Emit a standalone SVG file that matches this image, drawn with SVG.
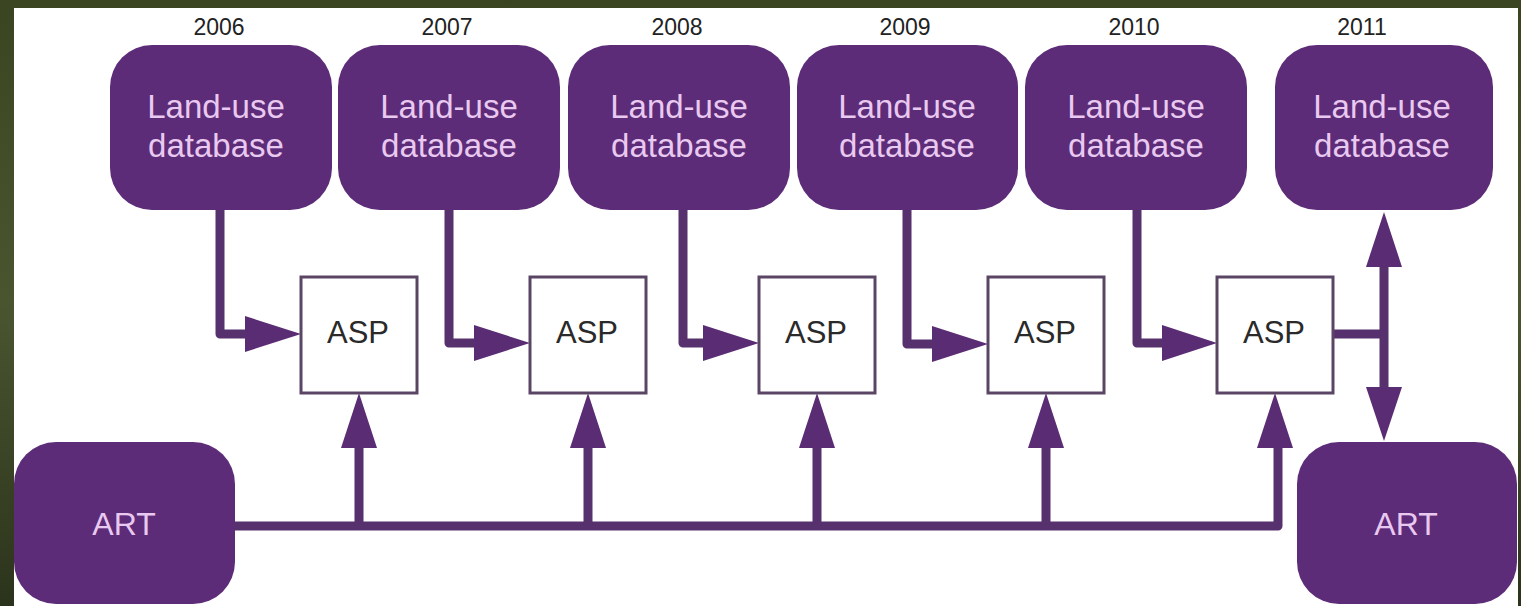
<svg xmlns="http://www.w3.org/2000/svg" width="1521" height="606" viewBox="0 0 1521 606">
  <defs>
    <linearGradient id="bg" x1="0" y1="0" x2="0" y2="1">
      <stop offset="0" stop-color="#3b4420"/>
      <stop offset="0.5" stop-color="#4a5530"/>
      <stop offset="1" stop-color="#2c331c"/>
    </linearGradient>
    <style>
      .db { fill: #5d2c78; }
      .dbt { font-family: "Liberation Sans", Arial, sans-serif; font-size: 33px; fill: #e9c9f0; text-anchor: middle; }
      .art { font-family: "Liberation Sans", Arial, sans-serif; font-size: 32px; fill: #e9c9f0; text-anchor: middle; }
      .yr { font-family: "Liberation Sans", Arial, sans-serif; font-size: 23px; fill: #222222; text-anchor: middle; }
      .asp { fill: #ffffff; stroke: #5a4664; stroke-width: 3; }
      .aspt { font-family: "Liberation Sans", Arial, sans-serif; font-size: 31px; fill: #2a2a2a; text-anchor: middle; }
      .ln { fill: none; stroke: #57306e; stroke-width: 9; stroke-linejoin: round; }
      .ah { fill: #5a2c74; }
    </style>
  </defs>
  <rect x="0" y="0" width="1521" height="606" fill="url(#bg)"/>
  <rect x="14" y="8" width="1504" height="598" fill="#ffffff"/>

  <g id="connectors">
    <path class="ln" d="M220,210 V334 H250"/>
    <polygon class="ah" points="245,316 301,334 245,352"/>
    <path class="ln" d="M449,210 V343 H478"/>
    <polygon class="ah" points="474,325 530,343 474,361"/>
    <path class="ln" d="M683,210 V343 H707"/>
    <polygon class="ah" points="703,325 759,343 703,361"/>
    <path class="ln" d="M907,210 V344 H936"/>
    <polygon class="ah" points="932,326 988,344 932,362"/>
    <path class="ln" d="M1137,210 V343 H1166"/>
    <polygon class="ah" points="1162,325 1217,343 1162,361"/>
    <path class="ln" d="M235,526 H1278 V440"/>
    <path class="ln" d="M359,526 V440"/>
    <path class="ln" d="M588,526 V440"/>
    <path class="ln" d="M817,526 V440"/>
    <path class="ln" d="M1046,526 V440"/>
    <polygon class="ah" points="341,448 359,393 377,448"/>
    <polygon class="ah" points="570,448 588,393 606,448"/>
    <polygon class="ah" points="799,448 817,393 835,448"/>
    <polygon class="ah" points="1028,448 1046,393 1064,448"/>
    <polygon class="ah" points="1257,448 1275,393 1293,448"/>
    <path class="ln" d="M1333,334 H1384"/>
    <path class="ln" d="M1384,262 V392"/>
    <polygon class="ah" points="1366,267 1384,212 1402,267"/>
    <polygon class="ah" points="1366,387 1384,441 1402,387"/>
  </g>

  <g id="db2006"><text class="yr" x="219" y="35">2006</text><rect class="db" x="110" y="45" width="222" height="165" rx="42"/><text class="dbt" x="216" y="118">Land-use</text><text class="dbt" x="216" y="157">database</text></g>
  <g id="db2007"><text class="yr" x="447" y="35">2007</text><rect class="db" x="338" y="45" width="222" height="165" rx="42"/><text class="dbt" x="449" y="118">Land-use</text><text class="dbt" x="449" y="157">database</text></g>
  <g id="db2008"><text class="yr" x="677" y="35">2008</text><rect class="db" x="568" y="45" width="222" height="165" rx="42"/><text class="dbt" x="679" y="118">Land-use</text><text class="dbt" x="679" y="157">database</text></g>
  <g id="db2009"><text class="yr" x="905" y="35">2009</text><rect class="db" x="797" y="45" width="221" height="165" rx="42"/><text class="dbt" x="907" y="118">Land-use</text><text class="dbt" x="907" y="157">database</text></g>
  <g id="db2010"><text class="yr" x="1134" y="35">2010</text><rect class="db" x="1025" y="45" width="222" height="165" rx="42"/><text class="dbt" x="1136" y="118">Land-use</text><text class="dbt" x="1136" y="157">database</text></g>
  <g id="db2011"><text class="yr" x="1362" y="35">2011</text><rect class="db" x="1275" y="45" width="218" height="165" rx="42"/><text class="dbt" x="1382" y="118">Land-use</text><text class="dbt" x="1382" y="157">database</text></g>

  <g id="asp1"><rect class="asp" x="301" y="277" width="116" height="116"/><text class="aspt" x="358" y="343">ASP</text></g>
  <g id="asp2"><rect class="asp" x="530" y="277" width="116" height="116"/><text class="aspt" x="587" y="343">ASP</text></g>
  <g id="asp3"><rect class="asp" x="759" y="277" width="116" height="116"/><text class="aspt" x="816" y="343">ASP</text></g>
  <g id="asp4"><rect class="asp" x="988" y="277" width="116" height="116"/><text class="aspt" x="1045" y="343">ASP</text></g>
  <g id="asp5"><rect class="asp" x="1217" y="277" width="116" height="116"/><text class="aspt" x="1274" y="343">ASP</text></g>

  <g id="art1"><rect class="db" x="14" y="442" width="221" height="162" rx="42"/><text class="art" x="124" y="535">ART</text></g>
  <g id="art2"><rect class="db" x="1297" y="442" width="220" height="162" rx="42"/><text class="art" x="1406" y="535">ART</text></g>
</svg>
